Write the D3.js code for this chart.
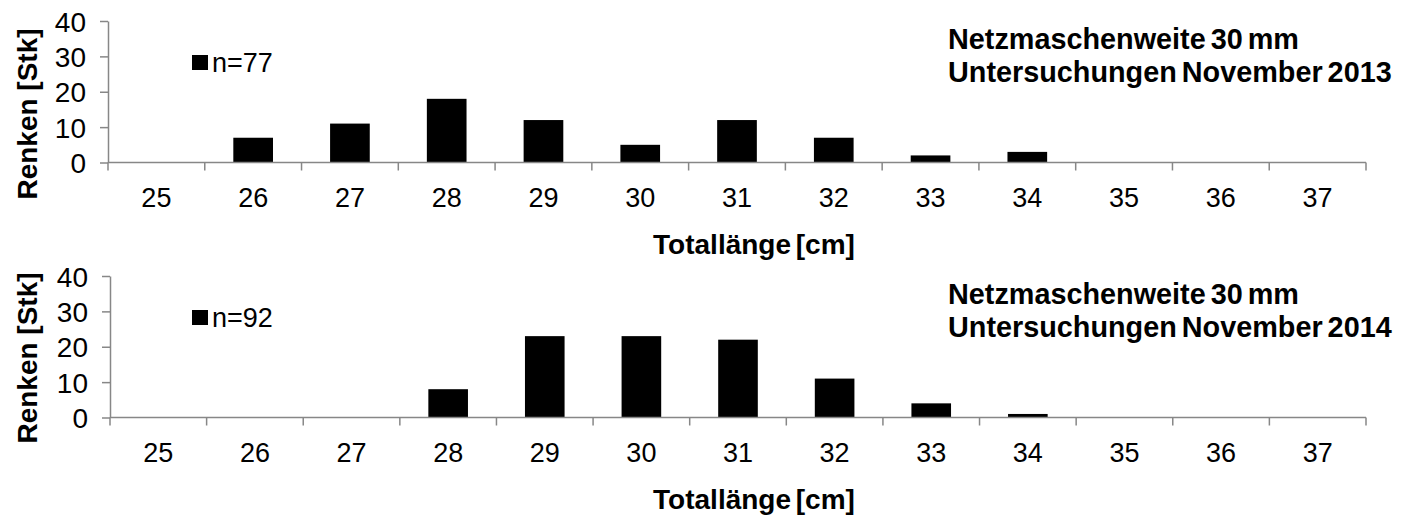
<!DOCTYPE html>
<html><head><meta charset="utf-8">
<script src="https://cdn.jsdelivr.net/npm/d3@7/dist/d3.min.js"></script>
<style>html,body{margin:0;padding:0;background:#fff}svg{display:block}text{font-family:Arial,"Liberation Sans",sans-serif;fill:#000}</style>
</head><body>
<svg id="c" width="1410" height="515"></svg>
<script>
const categories = ["25","26","27","28","29","30","31","32","33","34","35","36","37"];
const counts2013 = [0,7,11,18,12,5,12,7,2,3,0,0,0];
const counts2014 = [0,0,0,8,23,23,22,11,4,1,0,0,0];
const yTicks = [0,10,20,30,40];
const legend2013 = "n=77";
const legend2014 = "n=92";
const titleLines2013 = ["Netzmaschenweite 30 mm","Untersuchungen November 2013"];
const titleLines2014 = ["Netzmaschenweite 30 mm","Untersuchungen November 2014"];
const xTitle = "Totallänge [cm]";
const yTitle = "Renken [Stk]";

const svg = d3.select("#c");
const axisColor = "#878787";

function panel(offY, left, values, legendText, titleLines, yTitleCenter){
  const right = 1366, yBase = 162.5, yTop = 21;
  const g = svg.append("g").attr("transform", `translate(0,${offY})`);
  const x = d3.scaleBand().domain(categories).range([left, right]).paddingInner(0.59).paddingOuter(0.295);
  const step = x.step();
  const y = d3.scaleLinear().domain([0,40]).range([yBase, yTop]);

  // bars
  g.selectAll("rect.bar").data(values.map((v,i)=>({c:categories[i],v})).filter(d=>d.v>0))
    .enter().append("rect").attr("class","bar")
    .attr("x", d=>x(d.c)).attr("width", x.bandwidth())
    .attr("y", d=>y(d.v)).attr("height", d=>y(0)-y(d.v)).attr("fill","#000");

  // y axis
  const ya = g.append("g").attr("transform",`translate(${left},0)`)
    .call(d3.axisLeft(y).tickValues(yTicks).tickSize(8).tickPadding(14).tickSizeOuter(0));
  ya.select(".domain").attr("stroke",axisColor).attr("stroke-width",1.5);
  ya.selectAll(".tick line").attr("stroke",axisColor).attr("stroke-width",1.5);
  ya.selectAll(".tick text").style("font-size","28px").attr("fill","#000").attr("dy","0.36em");

  // x axis line and ticks at band boundaries
  g.append("line").attr("x1",left).attr("x2",right).attr("y1",y(0)).attr("y2",y(0))
    .attr("stroke",axisColor).attr("stroke-width",1.5);
  const bounds = d3.range(categories.length+1).map(i=>left+i*step);
  g.selectAll("line.xt").data(bounds).enter().append("line").attr("class","xt")
    .attr("x1",d=>d).attr("x2",d=>d).attr("y1",y(0)).attr("y2",y(0)+8)
    .attr("stroke",axisColor).attr("stroke-width",1.5);
  g.selectAll("text.xl").data(categories).enter().append("text").attr("class","xl")
    .attr("x",d=>x(d)+x.bandwidth()/2).attr("y",y(0)+44)
    .attr("text-anchor","middle").style("font-size","27px").text(d=>d);

  // x title
  g.append("text").attr("x",754).attr("y",y(0)+91).attr("text-anchor","middle")
    .style("font-size","28px").style("font-weight","bold").style("word-spacing","-3px").text(xTitle);
  // y title
  g.append("text").attr("transform",`translate(37,${yTitleCenter}) rotate(-90)`)
    .attr("text-anchor","middle").style("font-size","28px").style("font-weight","bold").text(yTitle);

  // legend
  g.append("rect").attr("x",192).attr("y",55).attr("width",16).attr("height",15).attr("fill","#000");
  g.append("text").attr("x",212).attr("y",72).style("font-size","27px").text(legendText);

  // title
  g.selectAll("text.tt").data(titleLines).enter().append("text").attr("class","tt")
    .attr("x",948).attr("y",(d,i)=>49+i*33).style("font-size","28.8px").style("font-weight","bold")
    .style("word-spacing","-3px").text(d=>d);
}
panel(0,108,counts2013,legend2013,titleLines2013,114);
panel(255,110,counts2014,legend2014,titleLines2014,103);
</script>
</body></html>
